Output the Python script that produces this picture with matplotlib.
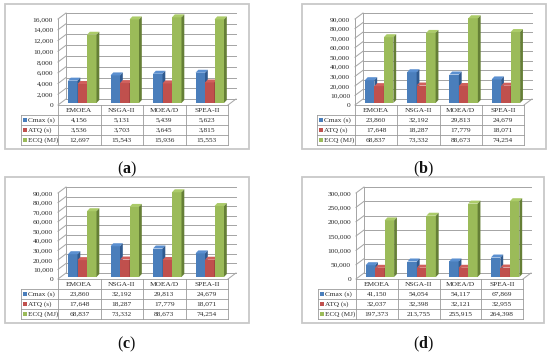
import matplotlib
matplotlib.use("Agg")
import matplotlib.pyplot as plt
from matplotlib.patches import Polygon, Rectangle
from matplotlib.ticker import FuncFormatter, MultipleLocator

W, H = 550, 353
SERIF = "Liberation Serif"
plt.rcParams["font.family"] = SERIF
plt.rcParams["mathtext.fontset"] = "custom"
plt.rcParams["mathtext.rm"] = SERIF
plt.rcParams["mathtext.bf"] = SERIF + ":bold"

categories = ["EMOEA", "NSGA-II", "MOEA/D", "SPEA-II"]
series_names = ["Cmax (s)", "ATQ (s)", "ECQ (MJ)"]

a_cmax = [4156, 5131, 5439, 5623]
a_atq = [3536, 3703, 3645, 3815]
a_ecq = [12697, 15543, 15936, 15553]

b_cmax = [23860, 32192, 29813, 24679]
b_atq = [17648, 18287, 17779, 18071]
b_ecq = [68837, 73332, 88673, 74254]

c_cmax = [23860, 32192, 29813, 24679]
c_atq = [17648, 18287, 17779, 18071]
c_ecq = [68837, 73332, 88673, 74254]

d_cmax = [41150, 54054, 54117, 67869]
d_atq = [32037, 32398, 32121, 32955]
d_ecq = [197373, 213755, 255915, 264398]

FRONT = ["#4a7ebb", "#c0504d", "#9bbb59"]
TOP = ["#5a8fd0", "#d0605c", "#abcb68"]
SIDE = ["#2f5a8f", "#8c3836", "#657f36"]
GRID = "#a4a4a4"
TEXT = "#2a2a2a"
FS = 5.3

fig = plt.figure(figsize=(W / 100, H / 100), dpi=100, facecolor="white")


def panel(frame_x, frame_y, frame_w, frame_h, ax_x, ax_r, ax_top, ax_bot,
          table_x, ymax, step, rows, label, label_x, label_y):
    # outer chart frame
    fig.add_artist(Rectangle((frame_x / W, 1 - (frame_y + frame_h) / H),
                             frame_w / W, frame_h / H,
                             transform=fig.transFigure, fc="white",
                             ec="#c8c8c8", lw=1.3, zorder=-5))
    ax = fig.add_axes([ax_x / W, 1 - ax_bot / H, (ax_r - ax_x) / W,
                       (ax_bot - ax_top) / H])
    ax.patch.set_alpha(0)
    ax.set_xlim(0, 4)
    ax.set_ylim(0, ymax)
    for s in ax.spines.values():
        s.set_visible(False)
    ax.set_xticks([])
    ax.yaxis.set_major_locator(MultipleLocator(step))
    ax.yaxis.set_major_formatter(FuncFormatter(lambda v, _: f"{int(v):,}"))
    ax.tick_params(axis="y", length=0, pad=3.6, labelsize=FS, labelcolor=TEXT)

    band = (ax_r - ax_x) / 4.0           # px per category
    py = (ax_bot - ax_top) / ymax        # px per value unit
    gdx, gdy = 8 / band, 6 / py          # depth of the wall
    right = 4 + 8 / band
    # gridlines: on the floor diagonal + back wall
    v = 0
    while v <= ymax:
        ax.plot([0, gdx], [v, v + gdy], color=GRID, lw=0.7, clip_on=False, zorder=1)
        ax.plot([gdx, right], [v + gdy, v + gdy], color=GRID, lw=0.7, clip_on=False, zorder=1)
        v += step
    ax.plot([0, 0], [0, ymax], color=GRID, lw=0.7, clip_on=False, zorder=1)
    ax.plot([gdx, gdx], [gdy, ymax + gdy], color=GRID, lw=0.7, clip_on=False, zorder=1)
    ax.plot([4, right], [0, gdy], color=GRID, lw=0.7, clip_on=False, zorder=1)

    # bars with a fake extrusion
    bw = 9.5 / band
    ox, oy = 3 / band, 2 / py            # front plane offset
    dx, dy = 2.8 / band, 3 / py          # extrusion
    for s, vals in enumerate(rows):
        for i, val in enumerate(vals):
            x0 = i + 0.5 + (s - 1.5) * bw + ox
            z = 5 + (s * 0.1)
            ax.bar(x0, val, width=bw, bottom=oy, align="edge",
                   color=FRONT[s], lw=0, zorder=z, clip_on=False)
            ax.add_patch(Polygon([(x0, val + oy), (x0 + dx, val + oy + dy),
                                  (x0 + bw + dx, val + oy + dy), (x0 + bw, val + oy)],
                                 fc=TOP[s], lw=0, zorder=z, clip_on=False))
            ax.add_patch(Polygon([(x0 + bw, oy), (x0 + bw + dx, oy + dy),
                                  (x0 + bw + dx, val + oy + dy), (x0 + bw, val + oy)],
                                 fc=SIDE[s], lw=0, zorder=z, clip_on=False))

    # data table
    tax = fig.add_axes([table_x / W, 1 - (ax_bot + 40) / H,
                        (ax_r - table_x) / W, 40 / H])
    tax.set_xlim(table_x, ax_r)
    tax.set_ylim(4, 0)
    tax.axis("off")
    cols = [ax_x + band * k for k in range(5)]
    lc = "#9a9a9a"
    for r in range(5):
        x_start = table_x if r >= 1 else ax_x
        tax.plot([x_start, ax_r], [r, r], color=lc, lw=0.6, clip_on=False)
    for k, cx in enumerate(cols):
        tax.plot([cx, cx], [0, 4], color=lc, lw=0.6, clip_on=False)
    tax.plot([table_x, table_x], [1, 4], color=lc, lw=0.6, clip_on=False)
    for k, name in enumerate(categories):
        tax.text((cols[k] + cols[k + 1]) / 2, 0.55, name, ha="center", va="center",
                 fontsize=FS, color=TEXT)
    for r, vals in enumerate(rows):
        tax.add_patch(Rectangle((table_x + 2, r + 1.5 - 0.2), 4, 0.4,
                                fc=FRONT[r], lw=0, clip_on=False))
        tax.text(table_x + 7, r + 1.5, series_names[r], ha="left", va="center",
                 fontsize=FS - 0.1, color=TEXT)
        for k, val in enumerate(vals):
            tax.text((cols[k] + cols[k + 1]) / 2, r + 1.5, f"{val:,}", ha="center",
                     va="center", fontsize=FS, color=TEXT)

    fig.text(label_x / W, 1 - label_y / H, label, ha="center", va="center",
             fontsize=11.5, color="#111111")


panel(5, 4, 244, 145, 58, 228, 19, 105, 21, 16000, 2000,
      [a_cmax, a_atq, a_ecq], r"($\mathbf{a}$)", 127, 169)
panel(302, 4, 244, 145, 355, 524, 19, 105, 317, 90000, 10000,
      [b_cmax, b_atq, b_ecq], r"($\mathbf{b}$)", 423, 169)
panel(5, 177, 244, 146, 58, 228, 193, 279, 21, 90000, 10000,
      [c_cmax, c_atq, c_ecq], r"($\mathbf{c}$)", 127, 344)
panel(302, 177, 242, 146, 356, 523, 193, 279, 318, 300000, 50000,
      [d_cmax, d_atq, d_ecq], r"($\mathbf{d}$)", 423, 344)

fig.savefig("out.png", dpi=100)
